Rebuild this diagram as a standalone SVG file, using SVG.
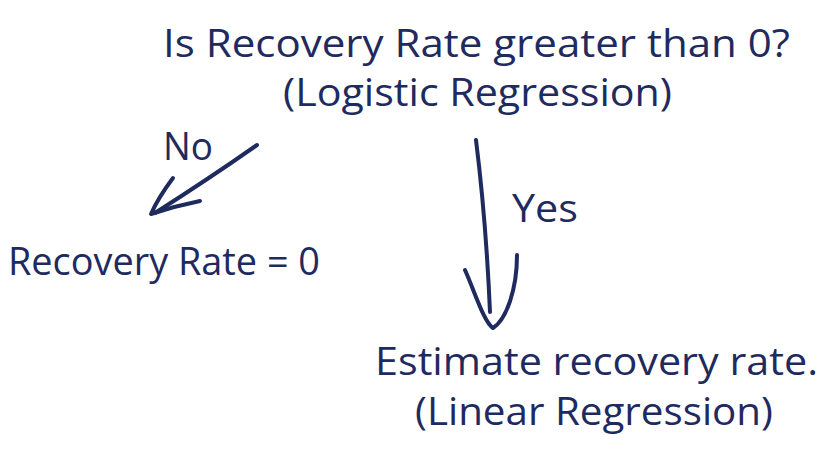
<svg xmlns="http://www.w3.org/2000/svg" width="830" height="454" viewBox="0 0 830 454">
<style>
.t{font-family:"Open Sans","Noto Sans","Liberation Sans",sans-serif;fill:#1f2a5e;font-size:38px;}
.c{fill:none;stroke:#1f2a5e;stroke-width:4;stroke-linecap:round;stroke-linejoin:round;}
</style>
<rect width="830" height="454" fill="#ffffff"/>
<g id="root">
<text class="t" x="163" y="57" textLength="627" lengthAdjust="spacingAndGlyphs">Is Recovery Rate greater than 0?</text>
<text class="t" x="283" y="106" textLength="389" lengthAdjust="spacingAndGlyphs">(Logistic Regression)</text>
</g>
<g id="no-node">
<text class="t" x="8" y="275" textLength="312" lengthAdjust="spacingAndGlyphs">Recovery Rate = 0</text>
</g>
<g id="yes-node">
<text class="t" x="375" y="375" textLength="443" lengthAdjust="spacingAndGlyphs">Estimate recovery rate.</text>
<text class="t" x="415" y="425" textLength="358" lengthAdjust="spacingAndGlyphs">(Linear Regression)</text>
</g>
<g id="connectors">
<path class="c" d="M257 145 Q210 178 155 213"/>
<path class="c" d="M173 178 Q158 198 151 214 Q175 206 200 201"/>
<text class="t" x="163" y="160" textLength="50" lengthAdjust="spacingAndGlyphs">No</text>
<path class="c" d="M476 140 Q486 220 490 312"/>
<path class="c" d="M465 270 C476 295 484 322 493 328 C506 320 517 290 517 255"/>
<text class="t" x="512" y="222" textLength="66" lengthAdjust="spacingAndGlyphs">Yes</text>
</g>
</svg>
